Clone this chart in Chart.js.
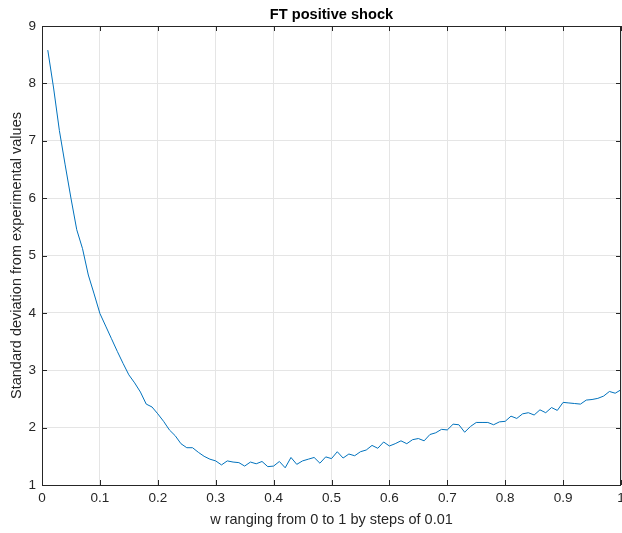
<!DOCTYPE html>
<html>
<head>
<meta charset="utf-8">
<script src="https://cdn.jsdelivr.net/npm/chart.js@4"></script>
<style>
  html, body { margin: 0; padding: 0; background: #fff; }
  #wrap { width: 622px; height: 533px; }
</style>
</head>
<body>
<div id="wrap"><canvas id="chart" width="622" height="533"></canvas></div>
<script>
// w values (0.01 steps) and deviation
const wValues = [
  0.01, 0.02, 0.03, 0.04, 0.05, 0.06, 0.07, 0.08, 0.09, 0.10,
  0.11, 0.12, 0.13, 0.14, 0.15, 0.16, 0.17, 0.18, 0.19, 0.20,
  0.21, 0.22, 0.23, 0.24, 0.25, 0.26, 0.27, 0.28, 0.29, 0.30,
  0.31, 0.32, 0.33, 0.34, 0.35, 0.36, 0.37, 0.38, 0.39, 0.40,
  0.41, 0.42, 0.43, 0.44, 0.45, 0.46, 0.47, 0.48, 0.49, 0.50,
  0.51, 0.52, 0.53, 0.54, 0.55, 0.56, 0.57, 0.58, 0.59, 0.60,
  0.61, 0.62, 0.63, 0.64, 0.65, 0.66, 0.67, 0.68, 0.69, 0.70,
  0.71, 0.72, 0.73, 0.74, 0.75, 0.76, 0.77, 0.78, 0.79, 0.80,
  0.81, 0.82, 0.83, 0.84, 0.85, 0.86, 0.87, 0.88, 0.89, 0.90,
  0.91, 0.92, 0.93, 0.94, 0.95, 0.96, 0.97, 0.98, 0.99, 1.00
];
const stdDeviation = [
  8.58, 7.92, 7.18, 6.58, 6.00, 5.45, 5.12, 4.66, 4.33, 3.99,
  3.77, 3.55, 3.33, 3.12, 2.92, 2.78, 2.62, 2.41, 2.36, 2.24,
  2.11, 1.96, 1.86, 1.72, 1.65, 1.65, 1.57, 1.50, 1.45, 1.42,
  1.35, 1.42, 1.40, 1.39, 1.33, 1.40, 1.37, 1.41, 1.32, 1.33,
  1.41, 1.30, 1.48, 1.36, 1.42, 1.45, 1.48, 1.38, 1.49, 1.46,
  1.58, 1.47, 1.54, 1.51, 1.58, 1.61, 1.69, 1.64, 1.75, 1.68,
  1.72, 1.77, 1.72, 1.79, 1.81, 1.77, 1.88, 1.91, 1.97, 1.96,
  2.06, 2.05, 1.92, 2.02, 2.09, 2.09, 2.09, 2.05, 2.10, 2.11,
  2.20, 2.16, 2.24, 2.26, 2.22, 2.31, 2.26, 2.35, 2.30, 2.44,
  2.43, 2.42, 2.41, 2.48, 2.49, 2.51, 2.55, 2.63, 2.60, 2.66
];
const xTicks = [0, 0.1, 0.2, 0.3, 0.4, 0.5, 0.6, 0.7, 0.8, 0.9, 1];
const yTicks = [1, 2, 3, 4, 5, 6, 7, 8, 9];

const titleText = 'FT positive shock';
const xLabel = 'w ranging from 0 to 1 by steps of 0.01';
const yLabel = 'Standard deviation from experimental values';

const axisColor = '#262626';
const gridColor = '#e5e5e5';
const fontFamily = '"Liberation Sans", Arial, Helvetica, sans-serif';

// Matlab-like box with inward tick marks
const boxPlugin = {
    id: 'box',
    afterDraw(chart) {
        const ctx = chart.ctx;
        const area = chart.chartArea;
        const xs = chart.scales.x;
        const ys = chart.scales.y;
        const len = 5;
        ctx.save();
        ctx.strokeStyle = axisColor;
        ctx.lineWidth = 1;
        ctx.beginPath();
        xTicks.forEach(v => {
            const px = Math.round(xs.getPixelForValue(v)) + 0.5;
            ctx.moveTo(px, area.bottom);
            ctx.lineTo(px, area.bottom - len);
            ctx.moveTo(px, area.top);
            ctx.lineTo(px, area.top + len);
        });
        yTicks.forEach(v => {
            const py = Math.round(ys.getPixelForValue(v)) + 0.5;
            ctx.moveTo(area.left, py);
            ctx.lineTo(area.left + len, py);
            ctx.moveTo(area.right, py);
            ctx.lineTo(area.right - len, py);
        });
        ctx.stroke();
        ctx.strokeRect(Math.round(area.left) + 0.5, Math.round(area.top) + 0.5,
            Math.round(area.right - area.left) - 1, Math.round(area.bottom - area.top));
        ctx.restore();
    }
};

const points = wValues.map((w, i) => ({ x: w, y: stdDeviation[i] }));

new Chart(document.getElementById('chart'), {
    type: 'line',
    data: {
        datasets: [{
            data: points,
            borderColor: '#0072BD',
            borderWidth: 1,
            pointRadius: 0,
            tension: 0,
            fill: false
        }]
    },
    options: {
        responsive: false,
        animation: false,
        layout: { padding: { left: 0, right: 1, top: 0, bottom: 4 } },
        plugins: {
            legend: { display: false },
            tooltip: { enabled: false },
            title: {
                display: true,
                text: titleText,
                fullSize: false,
                color: '#000',
                font: { family: fontFamily, size: 14.6, weight: 'bold' },
                padding: { top: 6, bottom: 2.5 }
            }
        },
        scales: {
            x: {
                type: 'linear',
                min: 0,
                max: 1,
                afterBuildTicks: s => { s.ticks = xTicks.map(v => ({ value: v })); },
                afterFit: s => { s.height = 44; s.paddingLeft = 0; s.paddingRight = 0; },
                grid: { color: gridColor, drawTicks: false },
                border: { display: false },
                ticks: {
                    color: axisColor,
                    padding: 5,
                    maxRotation: 0,
                    font: { family: fontFamily, size: 13.5 },
                    callback: v => String(v)
                },
                title: {
                    display: true,
                    text: xLabel,
                    color: axisColor,
                    font: { family: fontFamily, size: 14.5 },
                    padding: 0
                }
            },
            y: {
                type: 'linear',
                min: 1,
                max: 9,
                afterBuildTicks: s => { s.ticks = yTicks.map(v => ({ value: v })); },
                afterFit: s => { s.width = 42; s.paddingTop = 0; s.paddingBottom = 0; },
                grid: { color: gridColor, drawTicks: false },
                border: { display: false },
                ticks: {
                    color: axisColor,
                    padding: 6,
                    font: { family: fontFamily, size: 13.5 }
                },
                title: {
                    display: true,
                    text: yLabel,
                    color: axisColor,
                    font: { family: fontFamily, size: 14.5 },
                    padding: { top: 8, bottom: 0 }
                }
            }
        }
    },
    plugins: [boxPlugin]
});
</script>
</body>
</html>
